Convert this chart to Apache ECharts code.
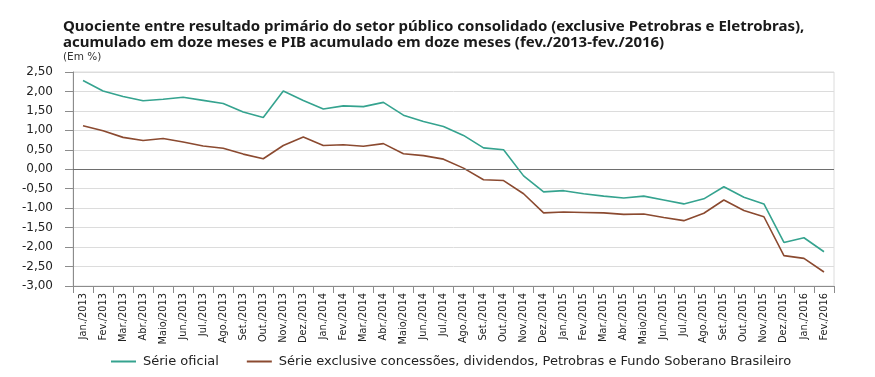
<!DOCTYPE html>
<html><head><meta charset="utf-8">
<script src="https://cdn.jsdelivr.net/npm/echarts@6/dist/echarts.min.js"></script>
<style>html,body{margin:0;padding:0;background:#fff}#c{width:875px;height:377px}</style>
</head><body><div id="c"></div>
<script>
const categories = ["Jan./2013","Fev./2013","Mar./2013","Abr./2013","Maio/2013","Jun./2013","Jul./2013","Ago./2013","Set./2013","Out./2013","Nov./2013","Dez./2013",
"Jan./2014","Fev./2014","Mar./2014","Abr./2014","Maio/2014","Jun./2014","Jul./2014","Ago./2014","Set./2014","Out./2014","Nov./2014","Dez./2014",
"Jan./2015","Fev./2015","Mar./2015","Abr./2015","Maio/2015","Jun./2015","Jul./2015","Ago./2015","Set./2015","Out./2015","Nov./2015","Dez./2015",
"Jan./2016","Fev./2016"];
const serieOficial = [2.28,2.01,1.87,1.76,1.80,1.85,1.77,1.69,1.47,1.33,2.01,1.77,
1.55,1.63,1.61,1.72,1.39,1.23,1.10,0.87,0.55,0.50,-0.17,-0.58,
-0.55,-0.63,-0.69,-0.74,-0.69,-0.79,-0.89,-0.76,-0.45,-0.72,-0.89,-1.88,
-1.76,-2.12];
const serieExclusive = [1.12,0.99,0.82,0.74,0.79,0.70,0.60,0.54,0.39,0.27,0.61,0.83,
0.61,0.63,0.59,0.66,0.40,0.35,0.26,0.03,-0.27,-0.29,-0.63,-1.12,
-1.10,-1.11,-1.12,-1.16,-1.15,-1.24,-1.32,-1.13,-0.79,-1.06,-1.22,-2.22,
-2.29,-2.64];
const titleLines = ["Quociente entre resultado primário do setor público consolidado (exclusive Petrobras e Eletrobras),",
"acumulado em doze meses e PIB acumulado em doze meses (fev./2013-fev./2016)"];
const unitText = "(Em %)";
const seriesNames = ["Série oficial","Série exclusive concessões, dividendos, Petrobras e Fundo Soberano Brasileiro"];

const TFONT = "'Noto Sans', 'Open Sans', sans-serif";
const FONT = "'DejaVu Sans', 'Noto Sans', sans-serif";

const chart = echarts.init(document.getElementById('c'), null, {renderer:'canvas'});
chart.setOption({
  animation:false,
  textStyle:{fontFamily:FONT},
  title:[
    {text:titleLines.join('\n'),left:58,top:13,textStyle:{fontFamily:TFONT,fontSize:15,fontWeight:'bold',color:'#1a1a1a',lineHeight:16.5}},
    {text:unitText,left:58,top:46,textStyle:{fontFamily:FONT,fontSize:10.5,fontWeight:'normal',color:'#333',lineHeight:12}}
  ],
  legend:{
    bottom:4,left:106,itemWidth:25,itemHeight:2,icon:'rect',itemGap:28,
    textStyle:{fontFamily:FONT,fontSize:13,color:'#222',padding:[0,0,0,2]},
    data:seriesNames
  },
  grid:{left:73,right:41,top:72,bottom:91,show:true,borderColor:'#dcdcdc',borderWidth:1},
  xAxis:{
    type:'category',data:categories,boundaryGap:true,
    axisLine:{onZero:false,lineStyle:{color:'#8c8c8c',width:1}},
    axisTick:{show:true,alignWithLabel:false,length:7,lineStyle:{color:'#8c8c8c'}},
    axisLabel:{rotate:90,interval:0,fontSize:9.8,color:'#222',margin:7,fontFamily:FONT}
  },
  yAxis:{
    type:'value',min:-3,max:2.5,interval:0.5,
    axisLine:{show:true,lineStyle:{color:'#8c8c8c',width:1}},
    axisTick:{show:true,length:8,lineStyle:{color:'#8c8c8c'}},
    splitLine:{lineStyle:{color:'#dcdcdc',width:1}},
    axisLabel:{fontSize:12,color:'#222',margin:20,fontFamily:FONT,
      formatter:v=>v.toFixed(2).replace('.',',')}
  },
  series:[
    {name:seriesNames[0],type:'line',data:serieOficial,showSymbol:false,symbol:'none',
     lineStyle:{color:'#35a38f',width:1.6},itemStyle:{color:'#35a38f'},
     markLine:{silent:true,symbol:'none',label:{show:false},lineStyle:{color:'#6e6e6e',type:'solid',width:1},data:[{yAxis:0}]}},
    {name:seriesNames[1],type:'line',data:serieExclusive,showSymbol:false,symbol:'none',
     lineStyle:{color:'#8b4a30',width:1.6},itemStyle:{color:'#8b4a30'}}
  ]
});
</script></body></html>
